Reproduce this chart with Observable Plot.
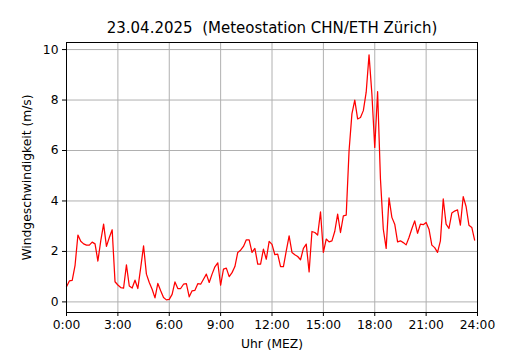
<!DOCTYPE html>
<html>
<head>
<meta charset="utf-8">
<script src="https://cdn.jsdelivr.net/npm/d3@7"></script>
<script src="https://cdn.jsdelivr.net/npm/@observablehq/plot@0.6"></script>
<style>
  html, body { margin: 0; padding: 0; background: #fff; }
  svg { display: block; }
</style>
</head>
<body>
<div id="chart"></div>
<script>
const title = "23.04.2025 \u00a0(Meteostation CHN/ETH Zürich)";
const xLabel = "Uhr (MEZ)";
const yLabel = "Windgeschwindigkeit (m/s)";
const xTicks = [0, 3, 6, 9, 12, 15, 18, 21, 24];
const yTicks = [0, 2, 4, 6, 8, 10];
const stepMinutes = 10;
// wind speed (m/s), every 10 minutes from 0:00 to 23:50
const windSpeed = [
  0.60, 0.83, 0.85, 1.45, 2.65, 2.40, 2.30, 2.25, 2.25, 2.37, 2.30, 1.62,
  2.42, 3.08, 2.20, 2.55, 2.86, 0.80, 0.67, 0.57, 0.55, 1.47, 0.63, 0.55,
  0.86, 0.53, 1.36, 2.22, 1.10, 0.77, 0.50, 0.16, 0.73, 0.44, 0.17, 0.08,
  0.10, 0.30, 0.79, 0.53, 0.53, 0.70, 0.72, 0.20, 0.44, 0.46, 0.72, 0.70,
  0.90, 1.10, 0.77, 1.10, 1.39, 1.55, 0.66, 1.30, 1.34, 1.00, 1.16, 1.40,
  1.96, 2.05, 2.20, 2.46, 2.46, 1.96, 2.12, 1.50, 1.50, 2.09, 1.69, 2.40,
  2.28, 1.87, 1.89, 1.40, 1.40, 2.02, 2.62, 1.96, 1.87, 1.80, 1.67, 2.12,
  2.29, 1.19, 2.79, 2.75, 2.65, 3.57, 1.96, 2.49, 2.38, 2.42, 2.80, 3.48,
  2.75, 3.41, 3.44, 5.99, 7.45, 8.00, 7.25, 7.31, 7.58, 8.31, 9.79, 8.24,
  6.12, 8.33, 4.87, 2.88, 2.12, 4.12, 3.35, 3.08, 2.38, 2.42, 2.35, 2.26,
  2.55, 2.90, 3.21, 2.72, 3.08, 3.06, 3.15, 2.88, 2.25, 2.15, 1.96, 2.42,
  4.08, 3.08, 2.91, 3.52, 3.60, 3.65, 3.04, 4.17, 3.78, 3.04, 2.95, 2.45
];

const data = windSpeed.map((v, i) => ({hour: i * stepMinutes / 60, speed: v}));

const chart = Plot.plot({
  width: 530,
  height: 350,
  marginLeft: 66,
  marginRight: 53,
  marginTop: 42,
  marginBottom: 38,
  style: {fontFamily: "DejaVu Sans", fontSize: "12.5px", color: "#000", background: "#fff"},
  x: {domain: [0, 24]},
  y: {domain: [-0.42, 10.28]},
  marks: [
    Plot.gridX(xTicks, {stroke: "#b0b0b0", strokeOpacity: 1, strokeWidth: 1}),
    Plot.gridY(yTicks, {stroke: "#b0b0b0", strokeOpacity: 1, strokeWidth: 1}),
    Plot.line(data, {x: "hour", y: "speed", stroke: "red", strokeWidth: 1.25}),
    Plot.frame({stroke: "#000", strokeWidth: 1}),
    Plot.axisX(xTicks, {tickSize: 4, tickPadding: 4, fontSize: 12.3, tickFormat: h => `${h}:00`,
      label: xLabel, labelAnchor: "center", labelArrow: "none", labelOffset: 35}),
    Plot.axisY(yTicks, {tickSize: 4, tickPadding: 4, fontSize: 12.3,
      label: yLabel, labelAnchor: "center", labelArrow: "none", labelOffset: 44}),
    Plot.text([title], {frameAnchor: "top", lineAnchor: "middle", dy: -14, fontSize: 15})
  ]
});
document.getElementById("chart").appendChild(chart);
</script>
</body>
</html>
